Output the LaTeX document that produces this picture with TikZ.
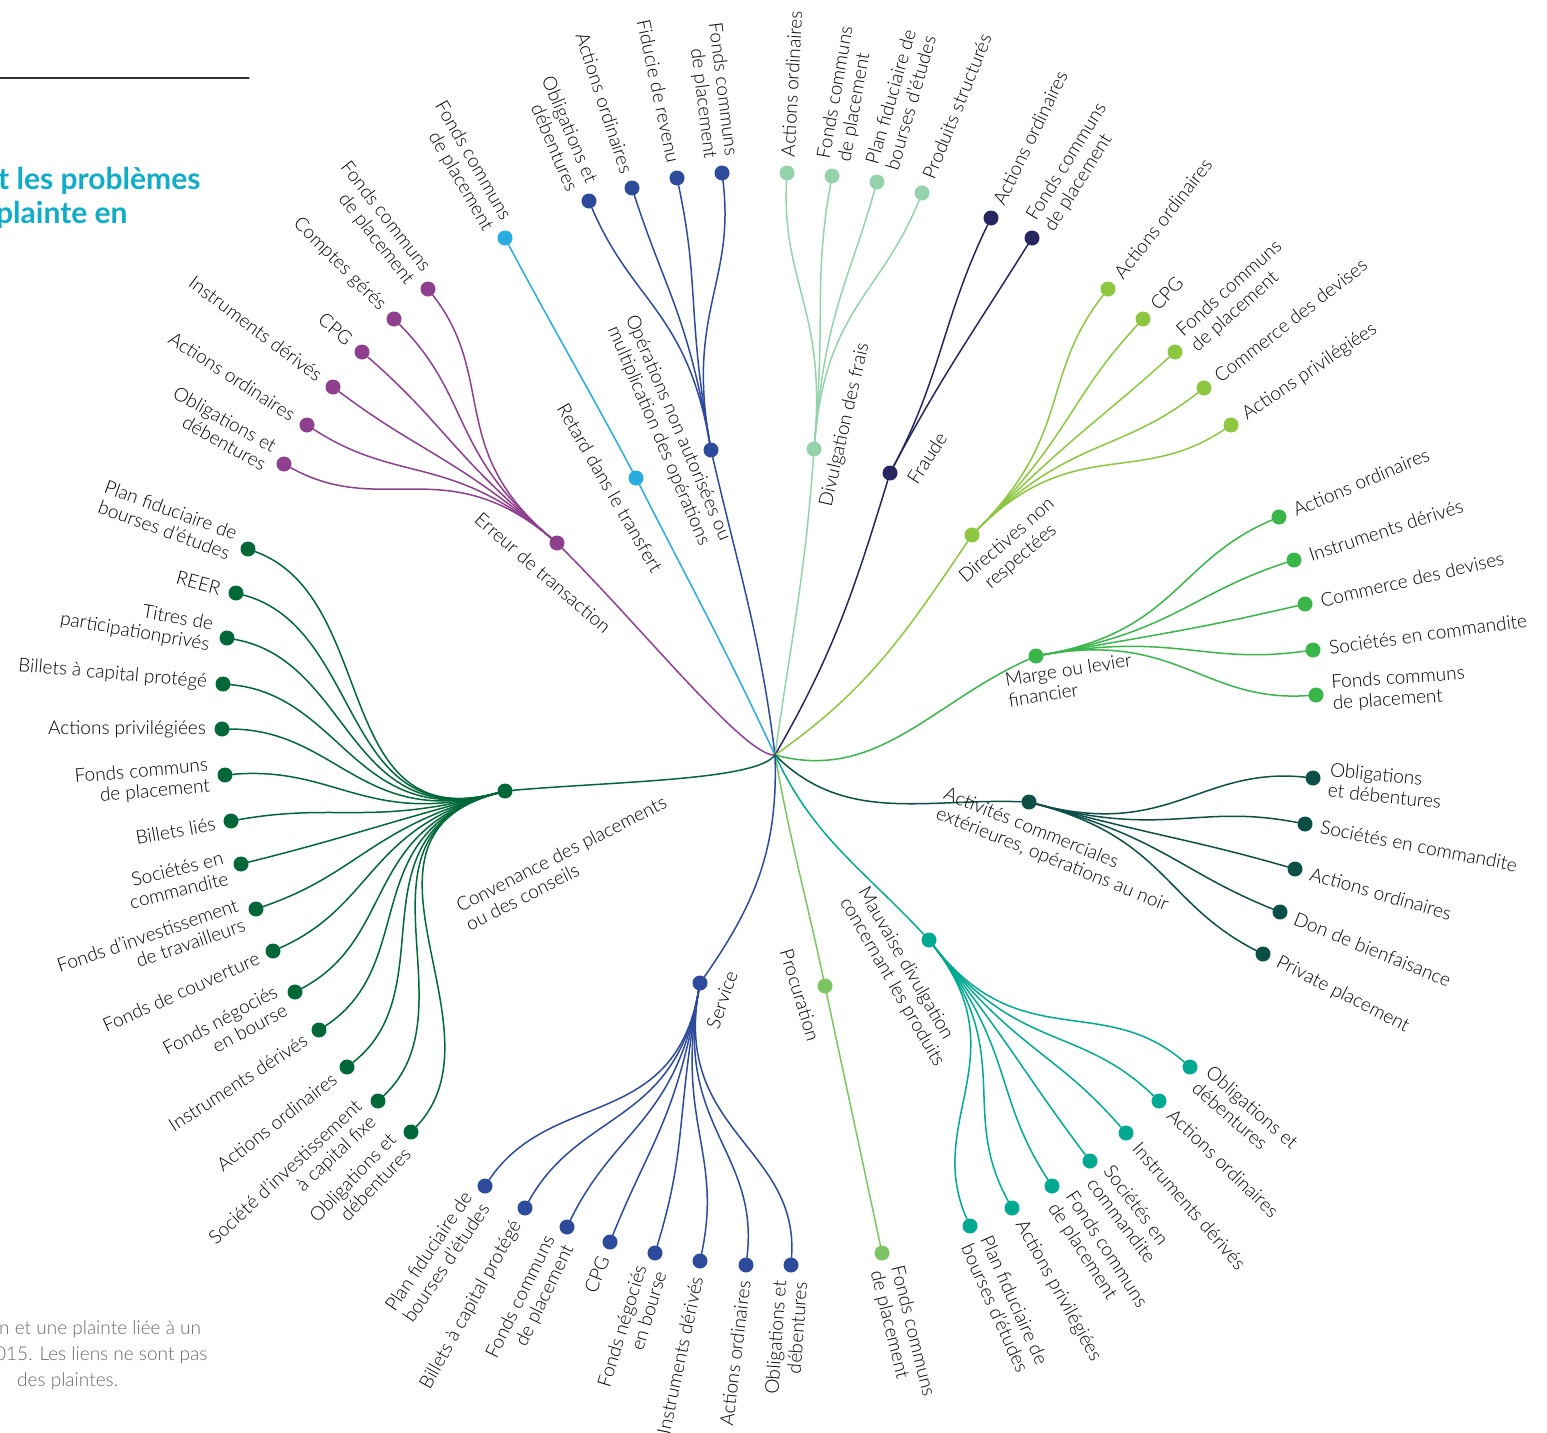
\documentclass[tikz,border=0pt]{standalone}
\usepackage{fontspec}
\setmainfont{Lato}[UprightFont=* Light, BoldFont=* Bold]
\newcommand\lblfont{\fontsize{19}{21}\selectfont}
\definecolor{cerr}{RGB}{142,63,142}
\definecolor{cret}{RGB}{41,171,226}
\definecolor{cops}{RGB}{46,74,155}
\definecolor{cdiv}{RGB}{148,210,172}
\definecolor{cfra}{RGB}{39,38,96}
\definecolor{cdir}{RGB}{141,198,63}
\definecolor{cmar}{RGB}{58,181,74}
\definecolor{cact}{RGB}{11,79,71}
\definecolor{cmau}{RGB}{0,169,143}
\definecolor{cpro}{RGB}{125,196,98}
\definecolor{cser}{RGB}{46,74,155}
\definecolor{ccon}{RGB}{0,104,56}
\definecolor{ctitle}{RGB}{16,172,200}
\definecolor{cnote}{RGB}{105,105,105}
\begin{document}
\begin{tikzpicture}[x=1pt, y=-1pt, line cap=round,
  leafdot/.style={circle, fill=#1, inner sep=0pt, minimum size=15pt},
  branch/.style={draw=#1, line width=1.5pt},
  leafl/.style={anchor=east, align=right, inner xsep=16pt, inner ysep=0pt, font=\lblfont},
  leafr/.style={anchor=west, align=left, inner xsep=16pt, inner ysep=0pt, font=\lblfont},
  catlbl/.style={inner sep=0pt, font=\lblfont},
  headline/.style={inner sep=0pt, anchor=base west, text=ctitle, font=\fontsize{30}{34}\selectfont\bfseries},
  notetext/.style={inner sep=0pt, anchor=base west, text=cnote, font=\fontsize{19}{22}\selectfont}]
\useasboundingbox (0,0) rectangle (1547,1432);
% Title and note
\coordinate (rule-l) at (0,78);
\coordinate (rule-r) at (249,78);
\draw[line width=1.2pt, black!80] (rule-l) -- (rule-r);
\node[headline] (title1) at (-2,189) {t les problèmes};
\node[headline] (title2) at (-4,223) {plainte en};
\node[notetext] (note1) at (-1,1334) {n et une plainte liée à un};
\node[notetext] (note2) at (-5,1360) {015. Les liens ne sont pas};
\node[notetext] (note3) at (17,1386) {des plaintes.};
% Hub and categories
\coordinate (hub) at (775,755);
\node[leafdot=cerr] (err) at (557,543) {};
\node[leafdot=cret] (ret) at (636,478) {};
\node[leafdot=cops] (ops) at (711,450) {};
\node[leafdot=cdiv] (div) at (814,449) {};
\node[leafdot=cfra] (fra) at (890,473) {};
\node[leafdot=cdir] (dir) at (972,535) {};
\node[leafdot=cmar] (mar) at (1036,656) {};
\node[leafdot=cact] (act) at (1029,802) {};
\node[leafdot=cmau] (mau) at (929,940) {};
\node[leafdot=cpro] (pro) at (825,986) {};
\node[leafdot=cser] (ser) at (700,983) {};
\node[leafdot=ccon] (con) at (505,791) {};
% Stems
\draw[branch=cerr] (hub) to[out=185, in=-45, out looseness=0.25] (err);
\draw[branch=cret] (hub) to[out=115, in=-63] (ret);
\draw[branch=cops] (hub) to[out=97, in=-77] (ops);
\draw[branch=cdiv] (hub) to[out=82, in=-94] (div);
\draw[branch=cfra] (hub) to[out=60, in=-107] (fra);
\draw[branch=cdir] (hub) to[out=35, in=-124] (dir);
\draw[branch=cmar] (hub) to[out=-15, in=-156] (mar);
\draw[branch=cact] (hub) to[out=-45, in=178] (act);
\draw[branch=cmau] (hub) to[out=-65, in=133] (mau);
\draw[branch=cpro] (hub) to[out=-80, in=102] (pro);
\draw[branch=cser] (hub) to[out=-88, in=55] (ser);
\draw[branch=ccon] (hub) to[out=235, in=5, out looseness=0.3] (con);
% Erreur de transaction
\foreach \i/\x/\y/\rot/\txt in {
  1/428/289/-52/{Fonds communs\\de placement},
  2/394/319/-45/Comptes gérés,
  3/362/352/-41/CPG,
  4/333/387/-37/Instruments dérivés,
  5/307/425/-33/Actions ordinaires,
  6/284/464/-29/{Obligations et\\débentures}}{
  \node[leafdot=cerr] (err\i) at (\x,\y) {};
  \draw[branch=cerr] (err) to[out=140, in=\rot, out looseness=1.3] (err\i);
  \node[leafl, rotate=\rot] (err\i-t) at (err\i) {\txt};
}
% Retard dans le transfert
\node[leafdot=cret] (ret1) at (505,238) {};
\draw[branch=cret] (ret) to[out=118, in=-62] (ret1);
\node[leafl, rotate=-60] (ret1-t) at (ret1) {Fonds communs\\de placement};
% Operations non autorisees
\foreach \i/\x/\y/\rot/\txt in {
  1/589/201/-67/{Obligations et\\débentures},
  2/632/188/-72/Actions ordinaires,
  3/677/178/-78/Fiducie de revenu,
  4/722/173/-83/{Fonds communs\\de placement}}{
  \node[leafdot=cops] (ops\i) at (\x,\y) {};
  \draw[branch=cops] (ops) to[out=100, in=\rot, out looseness=1.3] (ops\i);
  \node[leafl, rotate=\rot] (ops\i-t) at (ops\i) {\txt};
}
% Divulgation des frais
\foreach \i/\x/\y/\rot/\txt in {
  1/787/173/87/Actions ordinaires,
  2/832/176/80/{Fonds communs\\de placement},
  3/877/182/74/{Plan fiduciaire de\\bourses d’études},
  4/922/193/68/Produits structurés}{
  \pgfmathsetmacro\inang{\rot+180}
  \node[leafdot=cdiv] (div\i) at (\x,\y) {};
  \draw[branch=cdiv] (div) to[out=85, in=\inang, out looseness=1.3] (div\i);
  \node[leafr, rotate=\rot] (div\i-t) at (div\i) {\txt};
}
% Fraude
\foreach \i/\x/\y/\rot/\txt in {
  1/991/218/64/Actions ordinaires,
  2/1032/238/58/{Fonds communs\\de placement}}{
  \pgfmathsetmacro\inang{\rot+180}
  \node[leafdot=cfra] (fra\i) at (\x,\y) {};
  \draw[branch=cfra] (fra) to[out=62, in=\inang] (fra\i);
  \node[leafr, rotate=\rot] (fra\i-t) at (fra\i) {\txt};
}
% Directives non respectees
\foreach \i/\x/\y/\rot/\txt in {
  1/1108/289/52/Actions ordinaires,
  2/1143/319/47/CPG,
  3/1175/352/42/{Fonds communs\\de placement},
  4/1204/388/38/Commerce des devises,
  5/1231/425/34/Actions privilégiées}{
  \pgfmathsetmacro\inang{\rot+180}
  \node[leafdot=cdir] (dir\i) at (\x,\y) {};
  \draw[branch=cdir] (dir) to[out=45, in=\inang, out looseness=1.3] (dir\i);
  \node[leafr, rotate=\rot] (dir\i-t) at (dir\i) {\txt};
}
% Marge ou levier financier
\foreach \i/\x/\y/\rot/\txt in {
  1/1279/517/23/Actions ordinaires,
  2/1294/560/18/Instruments dérivés,
  3/1305/604/13/Commerce des devises,
  4/1313/650/8/Sociétés en commandite,
  5/1316/695/4/{Fonds communs\\de placement}}{
  \pgfmathsetmacro\inang{\rot+180}
  \node[leafdot=cmar] (mar\i) at (\x,\y) {};
  \draw[branch=cmar] (mar) to[out=10, in=\inang, out looseness=1.3] (mar\i);
  \node[leafr, rotate=\rot] (mar\i-t) at (mar\i) {\txt};
}
% Activites commerciales exterieures
\foreach \i/\x/\y/\rot/\txt in {
  1/1313/778/-6/{Obligations\\et débentures},
  2/1305/824/-11/Sociétés en commandite,
  3/1295/869/-16/Actions ordinaires,
  4/1280/912/-22/Don de bienfaisance,
  5/1263/954/-27/Private placement}{
  \pgfmathsetmacro\inang{\rot+180}
  \node[leafdot=cact] (act\i) at (\x,\y) {};
  \draw[branch=cact] (act) to[out=-15, in=\inang, out looseness=1.3] (act\i);
  \node[leafr, rotate=\rot] (act\i-t) at (act\i) {\txt};
}
% Mauvaise divulgation
\foreach \i/\x/\y/\rot/\txt in {
  1/1190/1067/-41/{Obligations et\\débentures},
  2/1159/1101/-44/Actions ordinaires,
  3/1126/1133/-49/Instruments dérivés,
  4/1090/1161/-53/{Sociétés en\\commandite},
  5/1052/1186/-57/{Fonds communs\\de placement},
  6/1012/1208/-61/Actions privilégiées,
  7/970/1226/-66/{Plan fiduciaire de\\bourses d’études}}{
  \pgfmathsetmacro\inang{\rot+180}
  \node[leafdot=cmau] (mau\i) at (\x,\y) {};
  \draw[branch=cmau] (mau) to[out=-52, in=\inang, out looseness=1.3] (mau\i);
  \node[leafr, rotate=\rot] (mau\i-t) at (mau\i) {\txt};
}
% Procuration
\node[leafdot=cpro] (pro1) at (882,1253) {};
\draw[branch=cpro] (pro) to[out=-78, in=102] (pro1);
\node[leafr, rotate=-76] (pro1-t) at (pro1) {Fonds communs\\de placement};
% Service
\foreach \i/\x/\y/\rot/\txt in {
  1/485/1186/56/{Plan fiduciaire de\\bourses d’études},
  2/525/1208/61/Billets à capital protégé,
  3/567/1227/64/{Fonds communs\\de placement},
  4/610/1242/68/CPG,
  5/655/1253/73/{Fonds négociés\\en bourse},
  6/700/1261/78/Instruments dérivés,
  7/746/1265/83/Actions ordinaires,
  8/791/1265/86/{Obligations et\\débentures}}{
  \node[leafdot=cser] (ser\i) at (\x,\y) {};
  \draw[branch=cser] (ser) to[out=-100, in=\rot, out looseness=1.3] (ser\i);
  \node[leafl, rotate=\rot] (ser\i-t) at (ser\i) {\txt};
}
% Convenance des placements
\foreach \i/\x/\y/\rot/\txt in {
  1/248/549/-20/{Plan fiduciaire de\\bourses d’études},
  2/236/593/-15/REER,
  3/227/638/-10/{Titres de\\participationprivés},
  4/223/684/-5/Billets à capital protégé,
  5/222/729/0/Actions privilégiées,
  6/225/775/5/{Fonds communs\\de placement},
  7/231/821/10/Billets liés,
  8/241/864/14/{Sociétés en\\commandite},
  9/256/909/19/{Fonds d’investissement\\de travailleurs},
  10/273/951/24/Fonds de couverture,
  11/295/992/28/{Fonds négociés\\en bourse},
  12/319/1030/33/Instruments dérivés,
  13/347/1067/38/Actions ordinaires,
  14/378/1101/43/{Société d’investissement\\à capital fixe},
  15/411/1132/46/{Obligations et\\débentures}}{
  \node[leafdot=ccon] (con\i) at (\x,\y) {};
  \draw[branch=ccon] (con) to[out=195, in=\rot, out looseness=1.3] (con\i);
  \node[leafl, rotate=\rot] (con\i-t) at (con\i) {\txt};
}
% Category labels
\node[catlbl, rotate=-41] (err-t) at (543,573) {Erreur de transaction};
\node[catlbl, rotate=-60] (ret-t) at (610,488) {Retard dans le transfert};
\node[catlbl, rotate=-67, align=center] (ops-t) at (668,432) {Opérations non autorisées ou\\multiplication des opérations};
\node[catlbl, rotate=77] (div-t) at (845,425) {Divulgation des frais};
\node[catlbl, rotate=57] (fra-t) at (927,458) {Fraude};
\node[catlbl, rotate=41, align=center] (dir-t) at (1014,549) {Directives non\\respectées};
\node[catlbl, rotate=9, align=left] (mar-t) at (1070,680) {Marge ou levier\\financier};
\node[catlbl, rotate=-22, align=left] (act-t) at (1056,850) {Activités commerciales\\extérieures, opérations au noir};
\node[catlbl, rotate=-60, align=left] (mau-t) at (901,977) {Mauvaise divulgation\\concernant les produits};
\node[catlbl, rotate=-73] (pro-t) at (800,995) {Procuration};
\node[catlbl, rotate=71] (ser-t) at (722,1000) {Service};
\node[catlbl, rotate=27, align=left] (con-t) at (566,863) {Convenance des placements\\ou des conseils};
\end{tikzpicture}
\end{document}
